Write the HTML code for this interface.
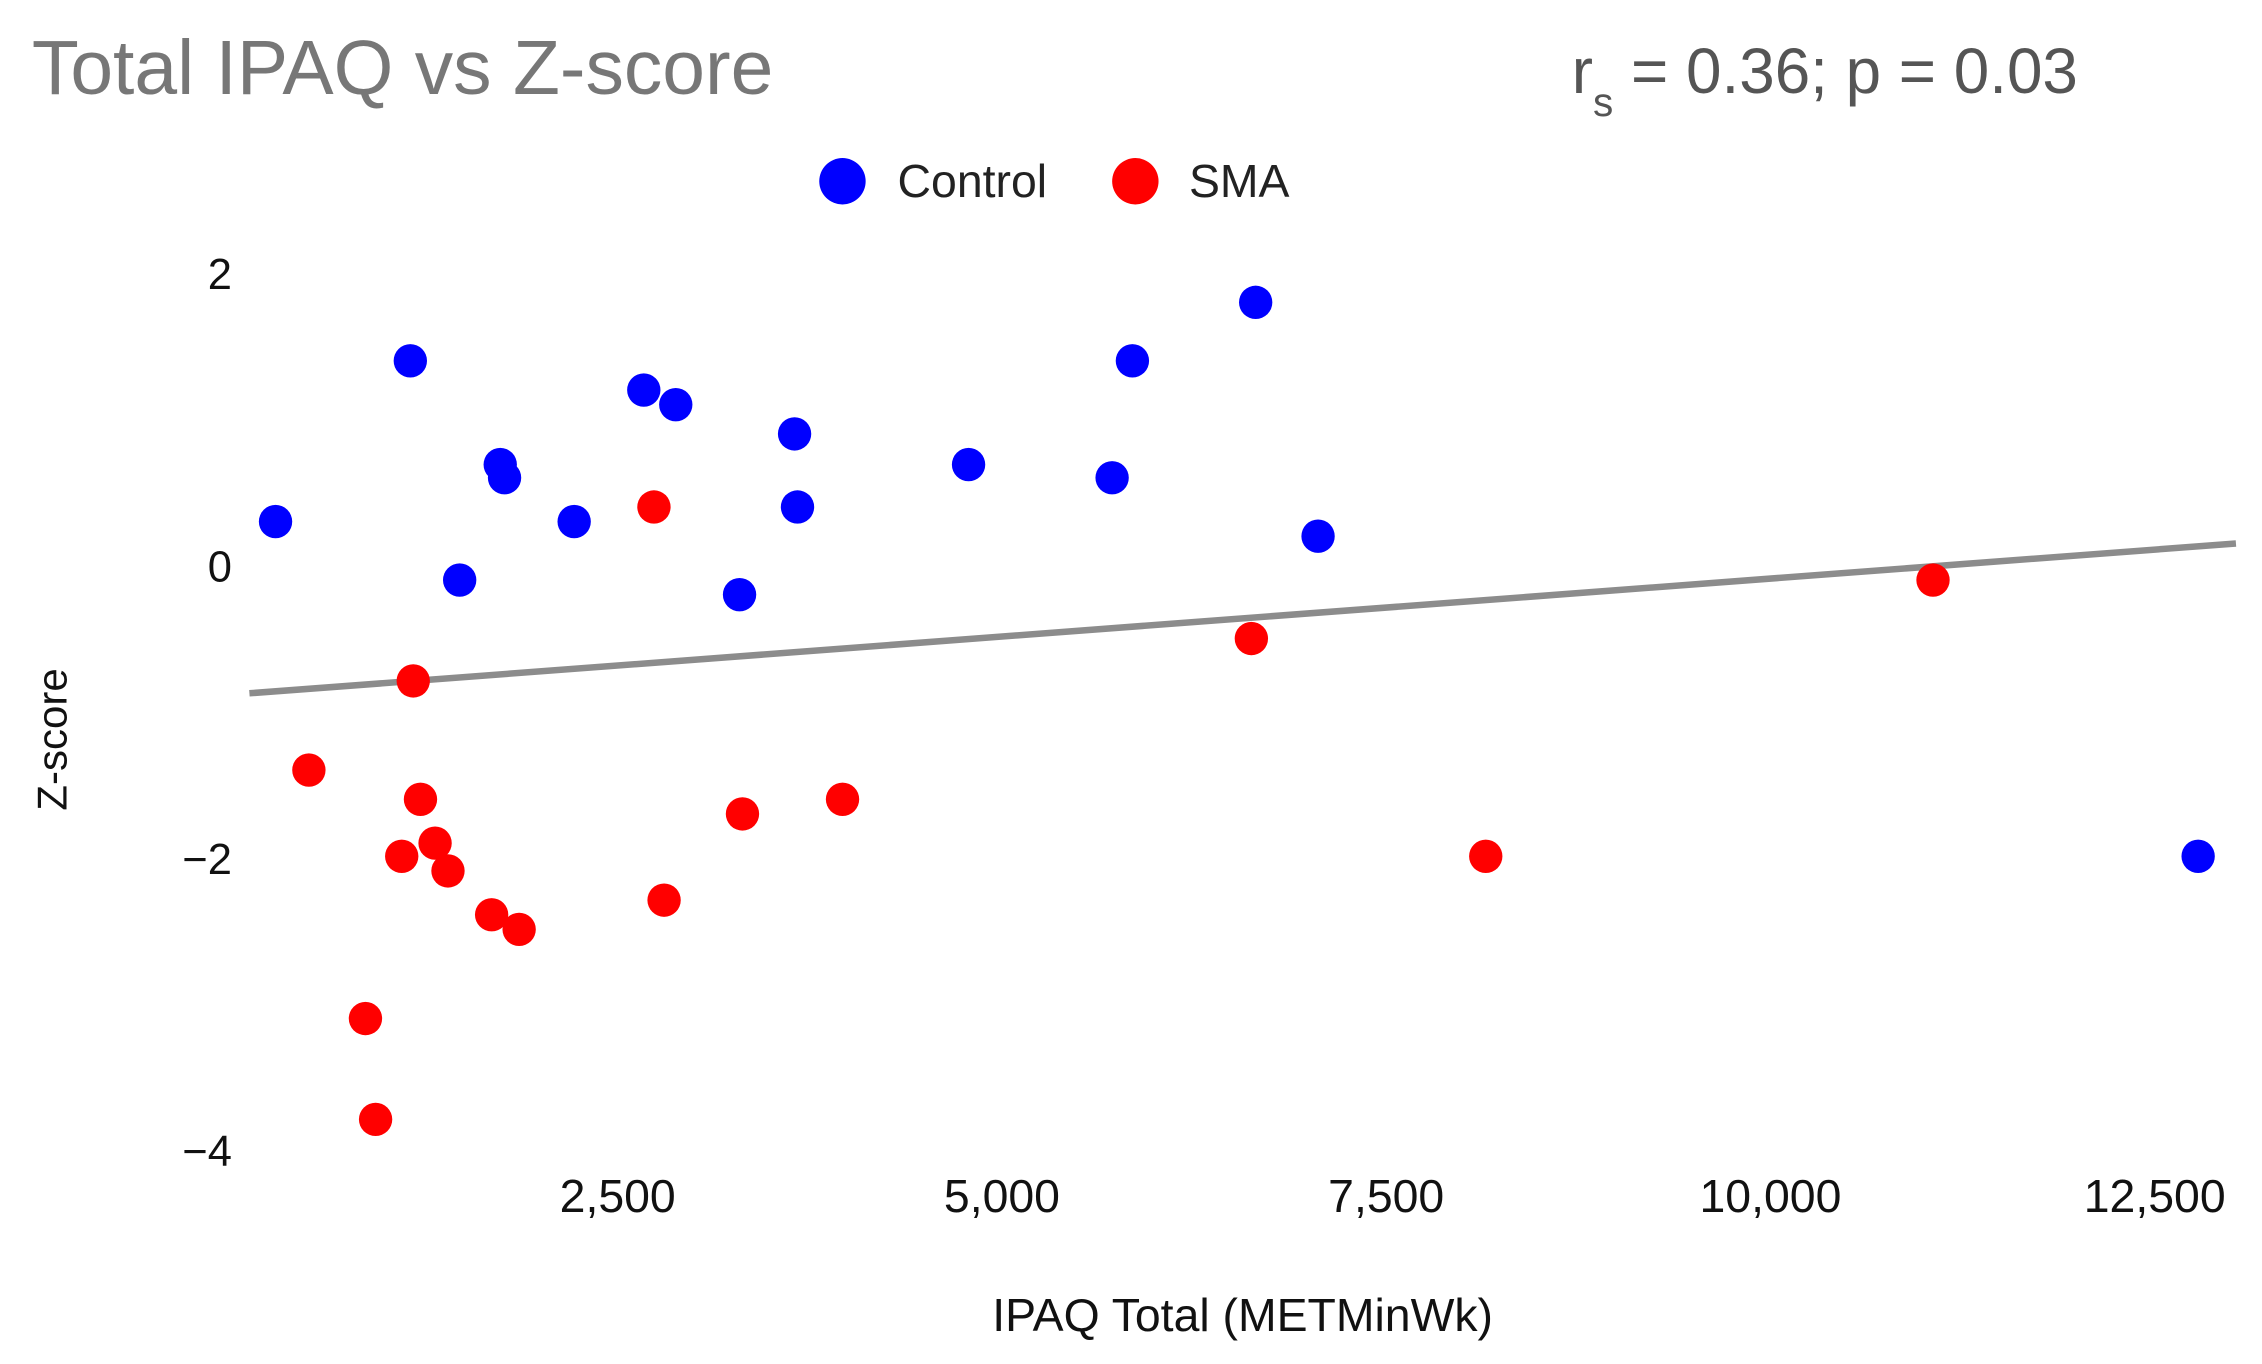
<!DOCTYPE html>
<html><head><meta charset="utf-8"><style>
html,body{margin:0;padding:0;background:#fff;}
svg{display:block;font-family:"Liberation Sans",Arial,sans-serif;}
</style></head><body>
<svg id="chart" width="2262" height="1364" viewBox="0 0 1560 940.7" xmlns="http://www.w3.org/2000/svg">
<text x="22" y="65" font-size="53" fill="#777">Total IPAQ vs Z-score</text>
<text x="1084" y="64" font-size="44" fill="#555">r<tspan font-size="28" dy="16">s</tspan><tspan dy="-16"> = 0.36; p = 0.03</tspan></text>
<g>
<circle cx="581" cy="125" r="16" fill="#0000ff"/>
<text x="619" y="136" font-size="32" fill="#222">Control</text>
<circle cx="783" cy="125" r="16" fill="#ff0000"/>
<text x="820" y="136" font-size="32" fill="#222">SMA</text>
</g>
<text x="857" y="918" font-size="32" fill="#111" text-anchor="middle">IPAQ Total (METMinWk)</text>
<text x="0" y="0" font-size="29" fill="#111" text-anchor="middle" transform="translate(46,510) rotate(-90)">Z-score</text>
<g id="xticks"></g><g id="yticks"></g><g id="trend"></g><g id="points"></g>
</svg>
<script>
const xTickValues=[2500,5000,7500,10000,12500];
const xTickLabels=["2,500","5,000","7,500","10,000","12,500"];
const yTickValues=[2,0,-2,-4];
const yTickLabels=["2","0","\u22122","\u22124"];
const controlX=[236,1113,1434,1698,1726,2179,2632,2840,3255,3613,3632,4745,5679,5811,6613,7019,12745];
const controlZ=[0.35,1.45,-0.05,0.74,0.65,0.35,1.25,1.15,-0.15,0.95,0.45,0.74,0.65,1.45,1.85,0.25,-1.94];
const smaX=[2698,1132,453,1179,1274,1057,1358,1642,1821,2764,3274,3925,821,887,6585,8110,11020];
const smaZ=[0.45,-0.74,-1.35,-1.55,-1.85,-1.94,-2.04,-2.34,-2.44,-2.24,-1.65,-1.55,-3.05,-3.74,-0.45,-1.94,-0.05];
const trendRange=[66,12991];
const trendCoef=[-0.83,0.0000793];
const NS="http://www.w3.org/2000/svg";
function xs(v){return 165+v*0.106;}
function ys(v){return 395-v*100.8;}
function mk(t,a,p){const e=document.createElementNS(NS,t);for(const k in a)e.setAttribute(k,a[k]);p.appendChild(e);return e;}
const gx=document.getElementById('xticks');
xTickValues.forEach((v,i)=>{const t=mk('text',{x:xs(v)-4,y:836,'font-size':32,fill:'#111','text-anchor':'middle'},gx);


t.textContent=xTickLabels[i];});
const gy=document.getElementById('yticks');
yTickValues.forEach((v,i)=>{const t=mk('text',{x:160,y:ys(v)+6,'font-size':30,fill:'#111','text-anchor':'end'},gy);


t.textContent=yTickLabels[i];});
const gt=document.getElementById('trend');
const ln=mk('line',{x1:xs(trendRange[0]),y1:ys(trendCoef[0]+trendCoef[1]*trendRange[0]),x2:xs(trendRange[1]),y2:ys(trendCoef[0]+trendCoef[1]*trendRange[1]),stroke:'#8c8c8c','stroke-width':4.5},gt);


const gp=document.getElementById('points');
controlX.forEach((v,i)=>{const c=mk('circle',{cx:xs(v),cy:ys(controlZ[i]),r:11.5,fill:'#0000ff'},gp);

});
smaX.forEach((v,i)=>{const c=mk('circle',{cx:xs(v),cy:ys(smaZ[i]),r:11.5,fill:'#ff0000'},gp);

});
</script>
</body></html>
